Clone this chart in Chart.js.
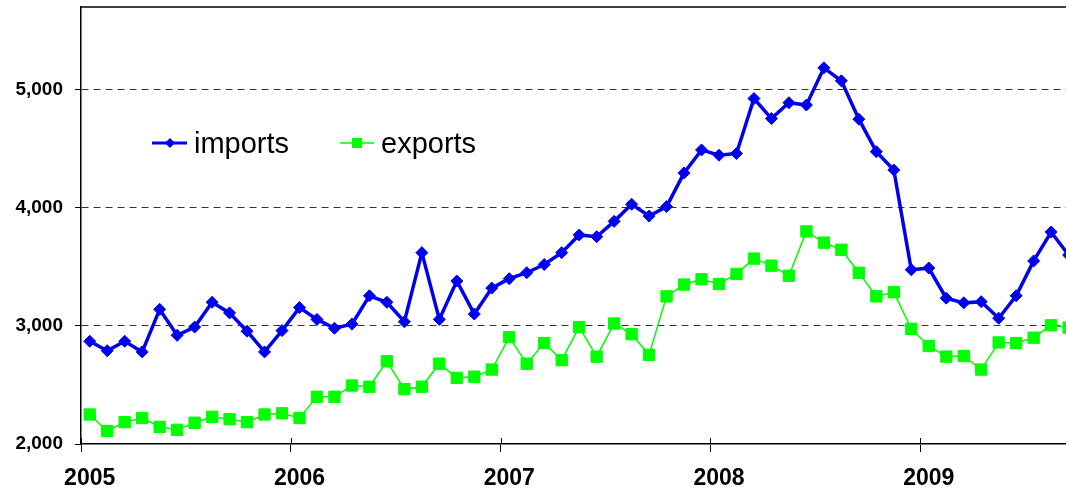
<!DOCTYPE html>
<html>
<head>
<meta charset="utf-8">
<script src="https://cdn.jsdelivr.net/npm/chart.js@4.4.1/dist/chart.umd.min.js"></script>
<style>
  body { margin: 0; background: #fff; }
  .chart-wrap { width: 1066px; height: 490px; position: relative; }
</style>
</head>
<body>
<div class="chart-wrap"><canvas id="tradeChart"></canvas></div>
<script>
const years = ["2005", "2006", "2007", "2008", "2009"];
const yTicks = [2000, 3000, 4000, 5000];
const imports = [
  2870, 2790, 2870, 2780, 3140, 2920, 2990, 3200, 3110, 2955, 2780, 2960,
  3155, 3055, 2980, 3015, 3255, 3200, 3035, 3620, 3055, 3380, 3100, 3320,
  3400, 3450, 3520, 3620, 3770, 3755, 3885, 4030, 3930, 4010, 4295, 4490,
  4445, 4460, 4925, 4755, 4890, 4870, 5185, 5075, 4750, 4475, 4320, 3475,
  3490, 3235, 3195, 3205, 3065, 3255, 3550, 3795, 3600,
];
const exports = [
  2250, 2110, 2185, 2220, 2145, 2120, 2180, 2230, 2210, 2185, 2250, 2260,
  2220, 2400, 2400, 2495, 2485, 2700, 2465, 2485, 2680, 2560, 2570, 2630,
  2905, 2680, 2855, 2710, 2990, 2740, 3020, 2930, 2755, 3250, 3350, 3395,
  3355, 3440, 3570, 3510, 3425, 3800, 3705, 3645, 3450, 3250, 3285, 2975,
  2830, 2740, 2745, 2630, 2860, 2855, 2900, 3005, 2985,
];

const BLUE = "#0000EE";
const GREEN = "#00FF00";

// monthly points sit in the middle of each month
const toPoints = (arr) => arr.map((v, i) => ({ x: i + 0.5, y: v }));

const extras = {
  id: "extras",
  afterDraw(chart) {
    const { ctx, chartArea } = chart;
    const xs = chart.scales.x;
    ctx.save();
    // top frame line
    ctx.strokeStyle = "#000";
    ctx.lineWidth = 1.5;
    ctx.beginPath();
    ctx.moveTo(chartArea.left, chartArea.top);
    ctx.lineTo(chartArea.right, chartArea.top);
    ctx.stroke();
    // tick marks crossing into the plot
    ctx.lineWidth = 1;
    years.forEach((y, i) => {
      const px = Math.round(xs.getPixelForValue(i * 12)) + 0.5;
      ctx.beginPath();
      ctx.moveTo(px, chartArea.bottom - 6);
      ctx.lineTo(px, chartArea.bottom);
      ctx.stroke();
    });

    // legend
    ctx.font = "29px 'Liberation Sans', Arial, sans-serif";
    ctx.textBaseline = "alphabetic";
    const ly = 143;
    ctx.strokeStyle = BLUE;
    ctx.lineWidth = 3;
    ctx.beginPath();
    ctx.moveTo(152, ly);
    ctx.lineTo(187, ly);
    ctx.stroke();
    ctx.fillStyle = BLUE;
    ctx.beginPath();
    ctx.moveTo(170, ly - 5);
    ctx.lineTo(175, ly);
    ctx.lineTo(170, ly + 5);
    ctx.lineTo(165, ly);
    ctx.closePath();
    ctx.fill();
    ctx.fillStyle = "#000";
    ctx.fillText("imports", 194, 153);

    ctx.strokeStyle = GREEN;
    ctx.lineWidth = 1.5;
    ctx.beginPath();
    ctx.moveTo(340, ly);
    ctx.lineTo(374, ly);
    ctx.stroke();
    ctx.fillStyle = GREEN;
    ctx.fillRect(352, ly - 5, 10, 10);
    ctx.fillStyle = "#000";
    ctx.fillText("exports", 381, 153);
    ctx.restore();
  },
};

new Chart(document.getElementById("tradeChart"), {
  type: "line",
  data: {
    datasets: [
      {
        label: "exports",
        data: toPoints(exports),
        borderColor: GREEN,
        backgroundColor: GREEN,
        borderWidth: 1.5,
        pointStyle: "rect",
        pointRadius: 8,
        pointBorderWidth: 1,
        pointBackgroundColor: GREEN,
        pointBorderColor: GREEN,
        tension: 0,
      },
      {
        label: "imports",
        data: toPoints(imports),
        borderColor: BLUE,
        backgroundColor: BLUE,
        borderWidth: 3.5,
        pointStyle: "rectRot",
        pointRadius: 6,
        pointBorderWidth: 1,
        pointBackgroundColor: BLUE,
        pointBorderColor: BLUE,
        tension: 0,
      },
    ],
  },
  options: {
    responsive: true,
    maintainAspectRatio: false,
    animation: false,
    layout: { autoPadding: false, padding: { top: 7, right: 0, left: 0, bottom: 0 } },
    plugins: {
      legend: { display: false },
      tooltip: { enabled: false },
    },
    scales: {
      x: {
        type: "linear",
        min: 0,
        max: 56.35,
        afterBuildTicks: (s) => {
          s.ticks = years.map((y, i) => ({ value: i * 12 }));
        },
        afterFit: (s) => {
          s.height = 46;
          s.paddingLeft = 0;
          s.paddingRight = 0;
        },
        ticks: {
          callback: (v) => years[v / 12],
          labelOffset: 8.7,
          padding: 13,
          maxRotation: 0,
          color: "#000",
          font: { family: "'Liberation Sans', Arial", size: 23, weight: "bold" },
        },
        grid: {
          drawOnChartArea: false,
          tickLength: 8,
          tickColor: "#000",
          tickWidth: 1,
        },
        border: { color: "#000", width: 1.5 },
      },
      y: {
        min: 2000,
        max: 5700,
        afterBuildTicks: (s) => {
          s.ticks = yTicks.map((v) => ({ value: v }));
        },
        afterFit: (s) => {
          s.width = 81;
          s.paddingTop = 0;
          s.paddingBottom = 0;
        },
        ticks: {
          callback: (v) => v.toLocaleString("en-US"),
          padding: 12,
          color: "#000",
          font: { family: "'Liberation Sans', Arial", size: 19, weight: "bold" },
        },
        grid: {
          color: (c) => (c.tick && c.tick.value === 2000 ? "rgba(0,0,0,0)" : "#333"),
          lineWidth: 1,
          tickLength: 6,
          tickColor: "#000",
          tickWidth: 1,
        },
        border: { color: "#000", width: 1.5, dash: [7, 5] },
      },
    },
  },
  plugins: [extras],
});
</script>
</body>
</html>
